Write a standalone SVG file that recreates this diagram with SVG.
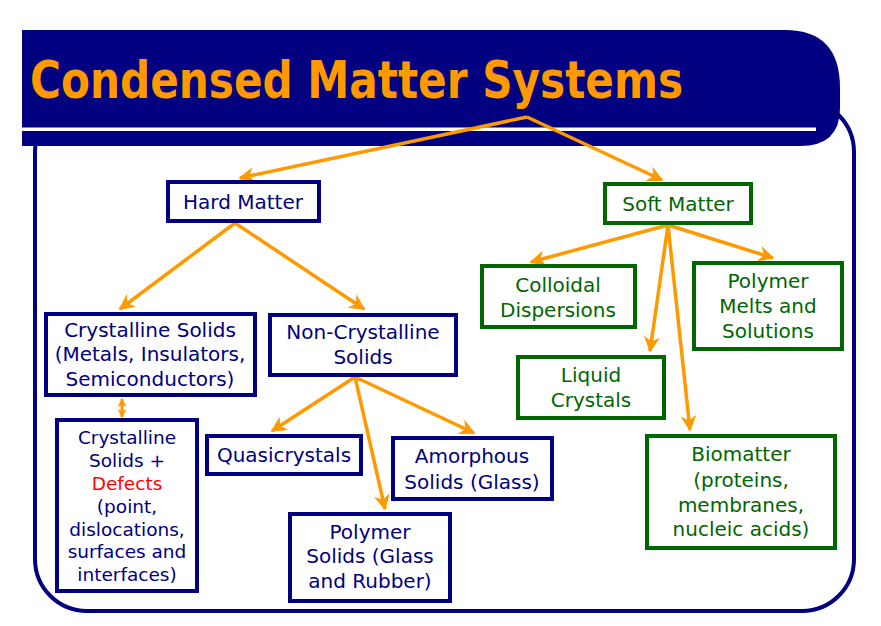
<svg xmlns="http://www.w3.org/2000/svg" width="881" height="626" viewBox="0 0 881 626">
<defs>
<style>
.bg{fill:#ffffff}
.frame{fill:none;stroke:#000080;stroke-width:4}
.nb{fill:#ffffff;stroke:#000080;stroke-width:4}
.ng{fill:#ffffff;stroke:#006600;stroke-width:4}
text{font-family:"Comic Sans MS","DejaVu Sans",sans-serif;font-size:20px;text-anchor:middle}
.sm{font-size:18.5px}
.tb{fill:#000080}
.tg{fill:#006600}
.red{fill:#ff0000}
.title{font-family:"Comic Sans MS","DejaVu Sans",sans-serif;font-weight:bold;font-size:52px;fill:#ff9900;text-anchor:start}
.c{fill:none;stroke:#ff9900;stroke-width:3.5;marker-end:url(#ah)}
.cd{fill:none;stroke:#ff9900;stroke-width:3;marker-end:url(#ah2);marker-start:url(#ah2)}
</style>
<marker id="ah" viewBox="0 0 10 10" refX="9" refY="5" markerWidth="16" markerHeight="16" markerUnits="userSpaceOnUse" orient="auto">
<path d="M0,0 L10,5 L0,10 L3,5 Z" fill="#ff9900"/>
</marker>
<marker id="ah2" viewBox="0 0 10 10" refX="9" refY="5" markerWidth="9" markerHeight="9" markerUnits="userSpaceOnUse" orient="auto-start-reverse">
<path d="M0,0 L10,5 L0,10 L3,5 Z" fill="#ff9900"/>
</marker>
</defs>
<rect class="bg" x="0" y="0" width="881" height="626"/>
<rect class="frame" x="35" y="100" width="819" height="511" rx="52" ry="52"/>
<g id="titlebar">
<path d="M22,30 H785 Q840,30 840,88 V108 Q840,146 800,146 H22 Z" fill="#000080"/>
<rect x="22" y="127.5" width="794" height="3.5" fill="#ffffff"/>
<text class="title" x="30" y="98" textLength="653" lengthAdjust="spacingAndGlyphs">Condensed Matter Systems</text>
</g>
<g id="connectors">
<path class="c" d="M527,117 L662,180"/>
<path class="c" d="M527,117 L240,178"/>
<path class="c" d="M235,223 L120,309"/>
<path class="c" d="M235,223 L364,309"/>
<path class="cd" d="M122,399 L122,417"/>
<path class="c" d="M355,377 L272,431"/>
<path class="c" d="M355,377 L385,509"/>
<path class="c" d="M355,377 L474,433"/>
<path class="c" d="M668,225 L531,262"/>
<path class="c" d="M668,225 L650,351"/>
<path class="c" d="M668,225 L690,430"/>
<path class="c" d="M668,225 L773,258"/>
</g>
<g id="hard-matter">
<rect class="nb" x="168" y="182" width="151" height="39"/>
<text class="tb" x="243" y="209">Hard Matter</text>
</g>
<g id="soft-matter">
<rect class="ng" x="605" y="184" width="146" height="39"/>
<text class="tg" x="678" y="211">Soft Matter</text>
</g>
<g id="crystalline-solids">
<rect class="nb" x="46" y="314" width="209" height="81"/>
<text class="tb" x="150" y="337">Crystalline Solids</text>
<text class="tb" x="150" y="361">(Metals, Insulators,</text>
<text class="tb" x="150" y="386">Semiconductors)</text>
</g>
<g id="non-crystalline-solids">
<rect class="nb" x="270" y="315" width="186" height="60"/>
<text class="tb" x="363" y="339">Non-Crystalline</text>
<text class="tb" x="363" y="364">Solids</text>
</g>
<g id="defects">
<rect class="nb" x="57" y="420" width="140" height="171"/>
<text class="tb sm" x="127" y="444">Crystalline</text>
<text class="tb sm" x="127" y="467">Solids +</text>
<text class="red sm" x="127" y="490">Defects</text>
<text class="tb sm" x="127" y="513">(point,</text>
<text class="tb sm" x="127" y="536">dislocations,</text>
<text class="tb sm" x="127" y="558">surfaces and</text>
<text class="tb sm" x="127" y="581">interfaces)</text>
</g>
<g id="quasicrystals">
<rect class="nb" x="207" y="436" width="154" height="38"/>
<text class="tb" x="284" y="462">Quasicrystals</text>
</g>
<g id="amorphous">
<rect class="nb" x="393" y="438" width="159" height="61"/>
<text class="tb" x="472" y="463">Amorphous</text>
<text class="tb" x="472" y="489">Solids (Glass)</text>
</g>
<g id="polymer-solids">
<rect class="nb" x="290" y="514" width="160" height="87"/>
<text class="tb" x="370" y="539">Polymer</text>
<text class="tb" x="370" y="563">Solids (Glass</text>
<text class="tb" x="370" y="588">and Rubber)</text>
</g>
<g id="colloidal">
<rect class="ng" x="482" y="266" width="153" height="61"/>
<text class="tg" x="558" y="292">Colloidal</text>
<text class="tg" x="558" y="317">Dispersions</text>
</g>
<g id="polymer-melts">
<rect class="ng" x="694" y="263" width="148" height="86"/>
<text class="tg" x="768" y="288">Polymer</text>
<text class="tg" x="768" y="313">Melts and</text>
<text class="tg" x="768" y="338">Solutions</text>
</g>
<g id="liquid-crystals">
<rect class="ng" x="518" y="357" width="146" height="61"/>
<text class="tg" x="591" y="382">Liquid</text>
<text class="tg" x="591" y="407">Crystals</text>
</g>
<g id="biomatter">
<rect class="ng" x="647" y="436" width="188" height="112"/>
<text class="tg" x="741" y="461">Biomatter</text>
<text class="tg" x="741" y="487">(proteins,</text>
<text class="tg" x="741" y="512">membranes,</text>
<text class="tg" x="741" y="536">nucleic acids)</text>
</g>
</svg>
